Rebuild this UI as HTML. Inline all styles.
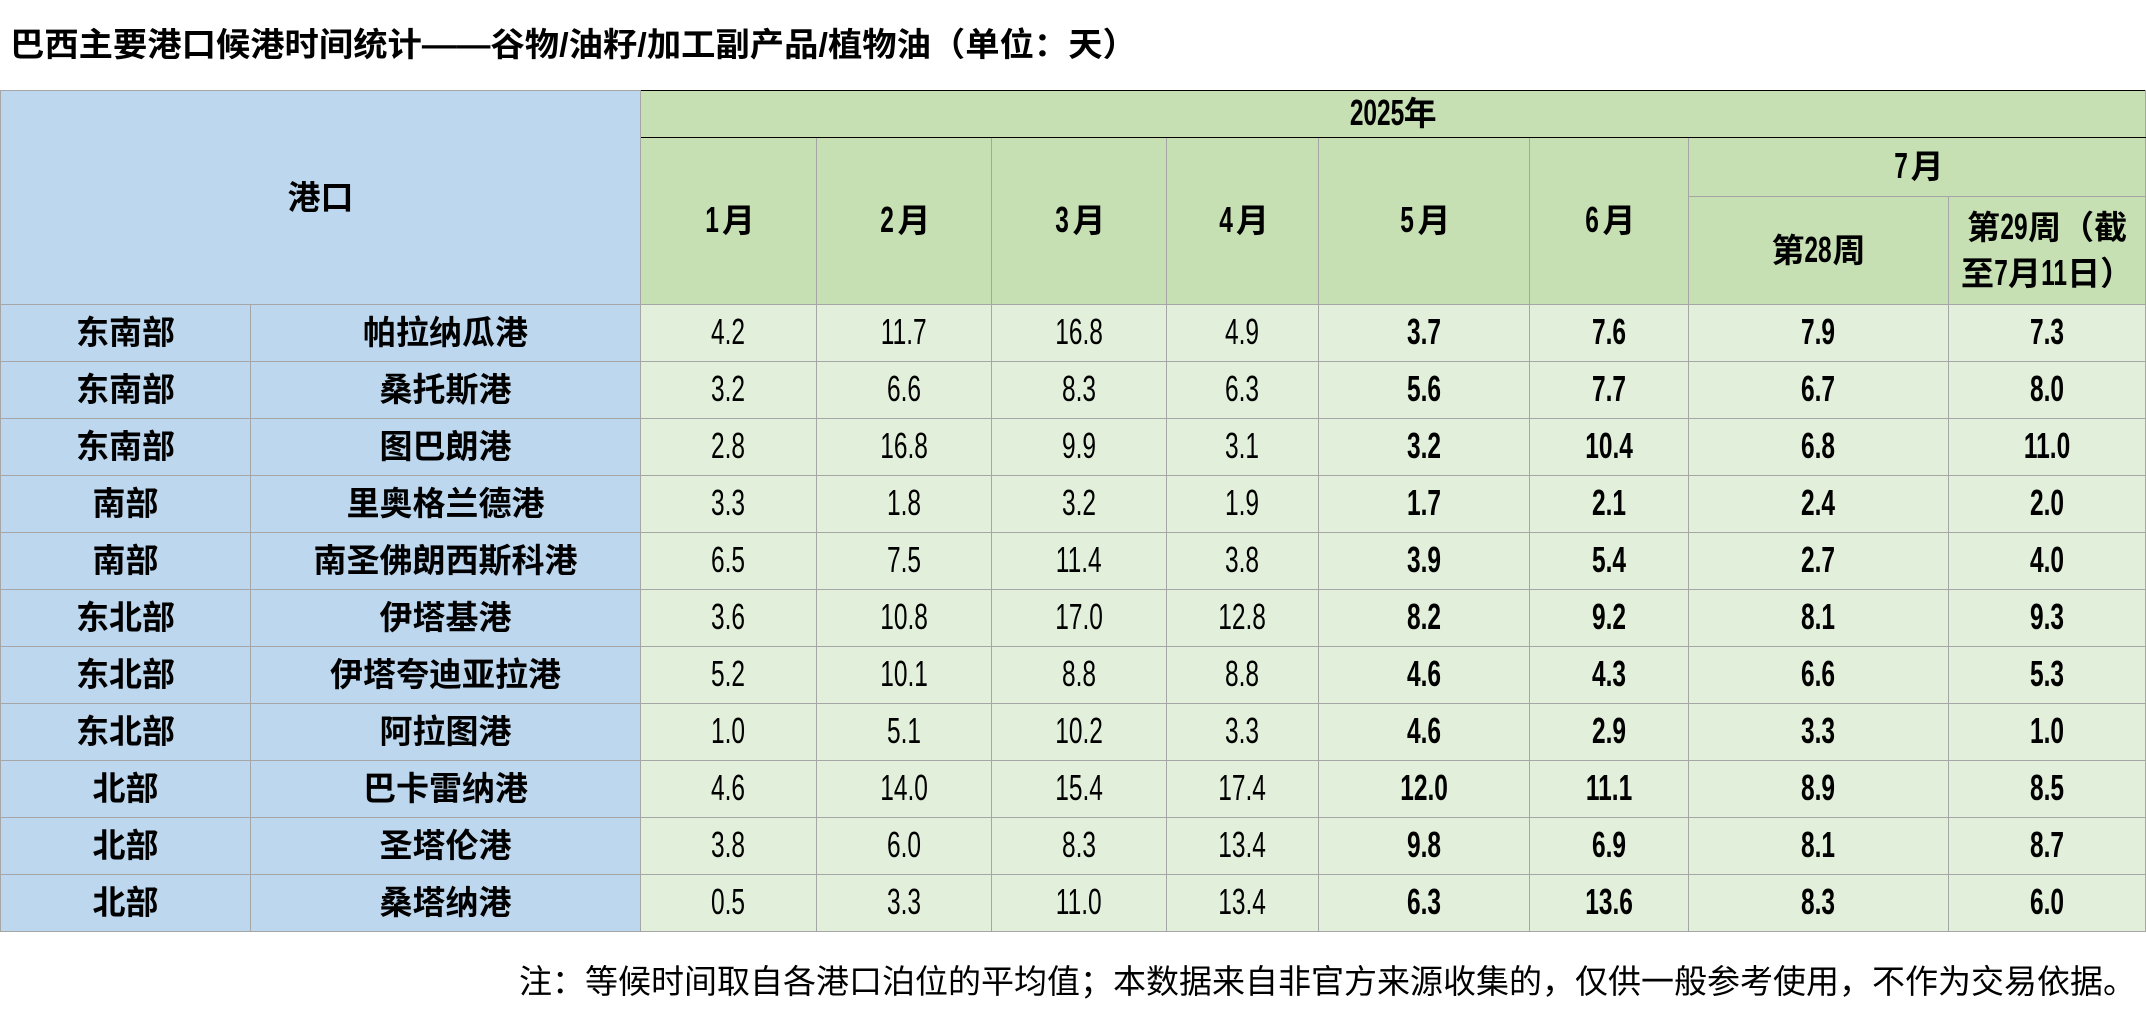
<!DOCTYPE html>
<html><head><meta charset="utf-8">
<style>
html,body{margin:0;padding:0;background:#fff;}
body{width:2146px;height:1033px;position:relative;overflow:hidden;font-family:"Liberation Sans","Noto Sans CJK SC",sans-serif;color:#000;}
.title{position:absolute;left:10px;top:25px;font-size:33px;font-weight:bold;white-space:nowrap;line-height:40px;transform:scaleX(1.04);transform-origin:left center;}
table{position:absolute;left:0;top:90px;border-collapse:collapse;table-layout:fixed;width:2145px;}
td{border:1px solid #a6a6a6;text-align:center;vertical-align:middle;padding:0;font-size:33px;line-height:38px;overflow:hidden;white-space:nowrap;}
.b{background:#BDD7EE;font-weight:bold;}
.g{background:#C6E0B4;font-weight:bold;font-size:33px;}
.d{background:#E2EFDA;}
.bo{font-weight:bold;}
.n{display:inline-block;font-size:36px;line-height:36px;transform:scaleX(0.68);}
tr.r td{height:56px;}
.top td.g{border-top:1px solid #000;}
.blk{border-bottom:1px solid #000;}
.note{position:absolute;right:10px;top:962px;font-size:33px;white-space:nowrap;line-height:40px;}
</style></head><body>
<div class="title">巴西主要港口候港时间统计——谷物/油籽/加工副产品/植物油（单位：天）</div>
<table>
<colgroup><col style="width:250px"><col style="width:390px"><col style="width:176px"><col style="width:175px"><col style="width:175px"><col style="width:152px"><col style="width:211px"><col style="width:159px"><col style="width:260px"><col style="width:197px"></colgroup>
<tr class="top" style="height:47px"><td class="b" colspan="2" rowspan="3">港口</td><td class="g blk" colspan="8"><span class="n" style="margin:0 -13px">2025</span>年</td></tr>
<tr style="height:59px"><td class="g" rowspan="2"><span class="n">1</span>月</td><td class="g" rowspan="2"><span class="n">2</span>月</td><td class="g" rowspan="2"><span class="n">3</span>月</td><td class="g" rowspan="2"><span class="n">4</span>月</td><td class="g" rowspan="2"><span class="n">5</span>月</td><td class="g" rowspan="2"><span class="n">6</span>月</td><td class="g" colspan="2"><span class="n">7</span>月</td></tr>
<tr style="height:108px"><td class="g">第<span class="n" style="margin:0 -6px">28</span>周</td><td class="g" style="line-height:46px">第<span class="n" style="margin:0 -6px">29</span>周（截<br>至<span class="n" style="margin:0 -3px">7</span>月<span class="n" style="margin:0 -6px">11</span>日）</td></tr>
<tr class="r"><td class="b">东南部</td><td class="b">帕拉纳瓜港</td><td class="d"><span class="n">4.2</span></td><td class="d"><span class="n">11.7</span></td><td class="d"><span class="n">16.8</span></td><td class="d"><span class="n">4.9</span></td><td class="d bo"><span class="n">3.7</span></td><td class="d bo"><span class="n">7.6</span></td><td class="d bo"><span class="n">7.9</span></td><td class="d bo"><span class="n">7.3</span></td></tr>
<tr class="r"><td class="b">东南部</td><td class="b">桑托斯港</td><td class="d"><span class="n">3.2</span></td><td class="d"><span class="n">6.6</span></td><td class="d"><span class="n">8.3</span></td><td class="d"><span class="n">6.3</span></td><td class="d bo"><span class="n">5.6</span></td><td class="d bo"><span class="n">7.7</span></td><td class="d bo"><span class="n">6.7</span></td><td class="d bo"><span class="n">8.0</span></td></tr>
<tr class="r"><td class="b">东南部</td><td class="b">图巴朗港</td><td class="d"><span class="n">2.8</span></td><td class="d"><span class="n">16.8</span></td><td class="d"><span class="n">9.9</span></td><td class="d"><span class="n">3.1</span></td><td class="d bo"><span class="n">3.2</span></td><td class="d bo"><span class="n">10.4</span></td><td class="d bo"><span class="n">6.8</span></td><td class="d bo"><span class="n">11.0</span></td></tr>
<tr class="r"><td class="b">南部</td><td class="b">里奥格兰德港</td><td class="d"><span class="n">3.3</span></td><td class="d"><span class="n">1.8</span></td><td class="d"><span class="n">3.2</span></td><td class="d"><span class="n">1.9</span></td><td class="d bo"><span class="n">1.7</span></td><td class="d bo"><span class="n">2.1</span></td><td class="d bo"><span class="n">2.4</span></td><td class="d bo"><span class="n">2.0</span></td></tr>
<tr class="r"><td class="b">南部</td><td class="b">南圣佛朗西斯科港</td><td class="d"><span class="n">6.5</span></td><td class="d"><span class="n">7.5</span></td><td class="d"><span class="n">11.4</span></td><td class="d"><span class="n">3.8</span></td><td class="d bo"><span class="n">3.9</span></td><td class="d bo"><span class="n">5.4</span></td><td class="d bo"><span class="n">2.7</span></td><td class="d bo"><span class="n">4.0</span></td></tr>
<tr class="r"><td class="b">东北部</td><td class="b">伊塔基港</td><td class="d"><span class="n">3.6</span></td><td class="d"><span class="n">10.8</span></td><td class="d"><span class="n">17.0</span></td><td class="d"><span class="n">12.8</span></td><td class="d bo"><span class="n">8.2</span></td><td class="d bo"><span class="n">9.2</span></td><td class="d bo"><span class="n">8.1</span></td><td class="d bo"><span class="n">9.3</span></td></tr>
<tr class="r"><td class="b">东北部</td><td class="b">伊塔夸迪亚拉港</td><td class="d"><span class="n">5.2</span></td><td class="d"><span class="n">10.1</span></td><td class="d"><span class="n">8.8</span></td><td class="d"><span class="n">8.8</span></td><td class="d bo"><span class="n">4.6</span></td><td class="d bo"><span class="n">4.3</span></td><td class="d bo"><span class="n">6.6</span></td><td class="d bo"><span class="n">5.3</span></td></tr>
<tr class="r"><td class="b">东北部</td><td class="b">阿拉图港</td><td class="d"><span class="n">1.0</span></td><td class="d"><span class="n">5.1</span></td><td class="d"><span class="n">10.2</span></td><td class="d"><span class="n">3.3</span></td><td class="d bo"><span class="n">4.6</span></td><td class="d bo"><span class="n">2.9</span></td><td class="d bo"><span class="n">3.3</span></td><td class="d bo"><span class="n">1.0</span></td></tr>
<tr class="r"><td class="b">北部</td><td class="b">巴卡雷纳港</td><td class="d"><span class="n">4.6</span></td><td class="d"><span class="n">14.0</span></td><td class="d"><span class="n">15.4</span></td><td class="d"><span class="n">17.4</span></td><td class="d bo"><span class="n">12.0</span></td><td class="d bo"><span class="n">11.1</span></td><td class="d bo"><span class="n">8.9</span></td><td class="d bo"><span class="n">8.5</span></td></tr>
<tr class="r"><td class="b">北部</td><td class="b">圣塔伦港</td><td class="d"><span class="n">3.8</span></td><td class="d"><span class="n">6.0</span></td><td class="d"><span class="n">8.3</span></td><td class="d"><span class="n">13.4</span></td><td class="d bo"><span class="n">9.8</span></td><td class="d bo"><span class="n">6.9</span></td><td class="d bo"><span class="n">8.1</span></td><td class="d bo"><span class="n">8.7</span></td></tr>
<tr class="r"><td class="b">北部</td><td class="b">桑塔纳港</td><td class="d"><span class="n">0.5</span></td><td class="d"><span class="n">3.3</span></td><td class="d"><span class="n">11.0</span></td><td class="d"><span class="n">13.4</span></td><td class="d bo"><span class="n">6.3</span></td><td class="d bo"><span class="n">13.6</span></td><td class="d bo"><span class="n">8.3</span></td><td class="d bo"><span class="n">6.0</span></td></tr>
</table>
<div class="note">注：等候时间取自各港口泊位的平均值；本数据来自非官方来源收集的，仅供一般参考使用，不作为交易依据。</div>
</body></html>
